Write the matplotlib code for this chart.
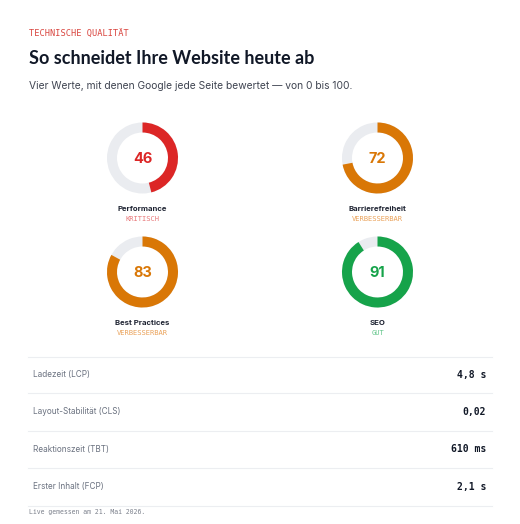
import matplotlib
matplotlib.use('Agg')
import matplotlib.pyplot as plt
from matplotlib.patches import Wedge

# score data
names = ['Performance', 'Barrierefreiheit', 'Best Practices', 'SEO']
scores = [46, 72, 83, 91]
status = ['KRITISCH', 'VERBESSERBAR', 'VERBESSERBAR', 'GUT']

# metric table
metricNames = ['Ladezeit (LCP)', 'Layout-Stabilität (CLS)', 'Reaktionszeit (TBT)', 'Erster Inhalt (FCP)']
metricValues = ['4,8 s', '0,02', '610 ms', '2,1 s']

def scoreColor(v):
   if v < 50:
      return '#dc2626', '#e8787a'
   if v < 90:
      return '#d97706', '#eaa25a'
   return '#16a34a', '#5fc488'

fig = plt.figure(figsize=(5.2, 5.24), dpi=100)
ax = fig.add_axes([0, 0, 1, 1])
ax.set_xlim(0, 520)
ax.set_ylim(524, 0)
ax.axis('off')

sans = 'Inter'
mono = 'DejaVu Sans Mono'

def fitText(x, y, s, width, **kw):
   # draw text, then scale the font so it spans about `width` pixels
   t = ax.text(x, y, s, **kw)
   r = fig.canvas.get_renderer()
   w = t.get_window_extent(renderer=r).width
   t.set_fontsize(t.get_fontsize() * width / w)
   return t

# header
ax.text(29, 33, 'TECHNISCHE QUALITÄT', family=mono, fontsize=6.2, color='#d9453f', va='center')
fitText(29, 58, 'So schneidet Ihre Website heute ab', 284, family='Lato', fontsize=13, weight='bold', color='#111827', va='center')
ax.text(29, 86, 'Vier Werte, mit denen Google jede Seite bewertet — von 0 bis 100.', family=sans, fontsize=7.4, color='#3f4451', va='center')

# donuts, 2x2 grid
centersX = [142.5, 377.5, 142.5, 377.5]
centersY = [158, 158, 272, 272]
r = 35.5
ringW = 10
for i in range(len(scores)):
   cx, cy = centersX[i], centersY[i]
   col, light = scoreColor(scores[i])
   ax.add_patch(Wedge((cx, cy), r, 0, 360, width=ringW, facecolor='#eaecf0', edgecolor='none'))
   # y axis is flipped so increasing theta runs clockwise on screen, start at top (-90)
   ax.add_patch(Wedge((cx, cy), r, -90, -90 + 360 * scores[i] / 100, width=ringW, facecolor=col, edgecolor='none'))
   ax.text(cx, cy + 1, str(scores[i]), family=sans, fontsize=10.5, weight='bold', color=col, ha='center', va='center')
   ax.text(cx, cy + 51, names[i], family=sans, fontsize=5.6, weight='bold', color='#1f2433', ha='center', va='center')
   ax.text(cx, cy + 61, status[i], family=mono, fontsize=5.1, color=light, ha='center', va='center')

# table
lineY = [357, 393, 431, 468, 506]
for y in lineY:
   ax.plot([28, 492], [y, y], color='#eceef1', lw=0.8)
for i in range(len(metricNames)):
   y = (lineY[i] + lineY[i + 1]) / 2
   ax.text(33, y, metricNames[i], family=sans, fontsize=5.9, color='#6b7280', va='center')
   ax.text(486, y, metricValues[i], family=mono, fontsize=7, weight='bold', color='#111827', ha='right', va='center')

ax.text(29, 512, 'Live gemessen am 21. Mai 2026.', family=mono, fontsize=4.7, color='#7c818c', va='center')

fig.savefig('out.png', dpi=100)
